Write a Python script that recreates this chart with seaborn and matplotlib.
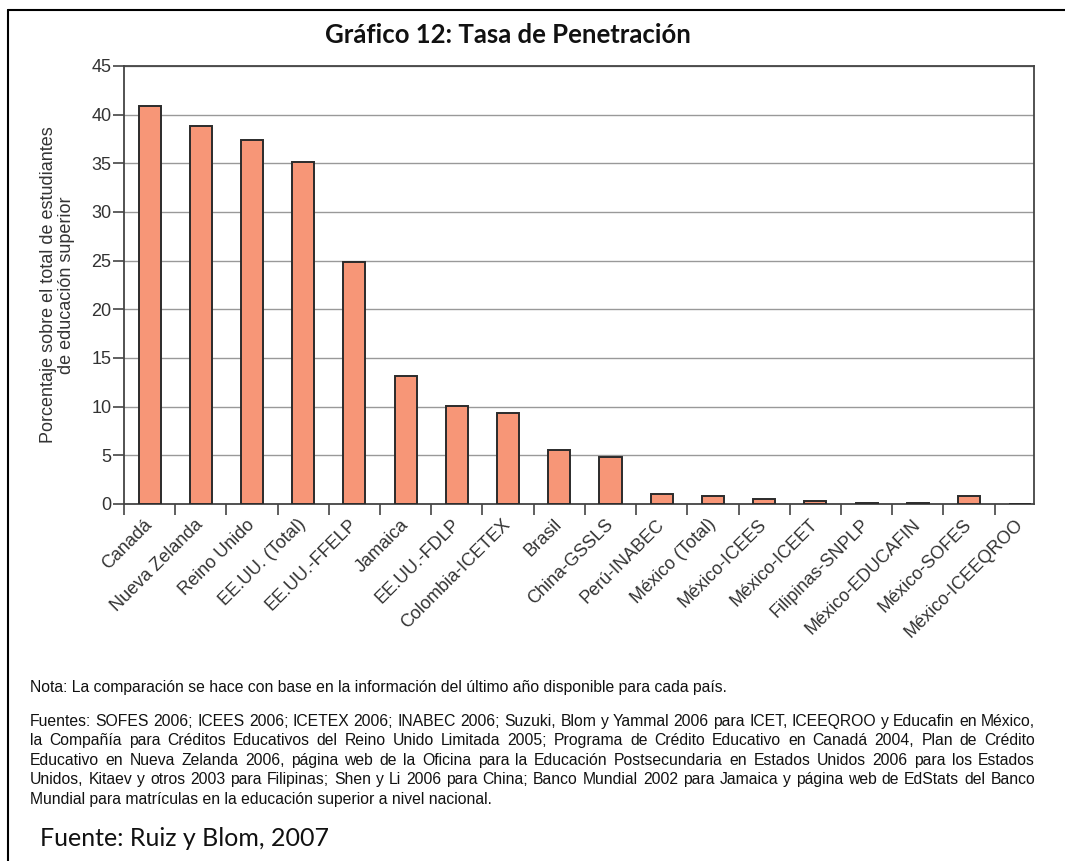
import numpy as np
import pandas as pd
import seaborn as sns
import matplotlib.pyplot as plt
from matplotlib.lines import Line2D

# DATA
categorias = ['Canadá', 'Nueva Zelanda', 'Reino Unido', 'EE.UU. (Total)', 'EE.UU.-FFELP',
              'Jamaica', 'EE.UU.-FDLP', 'Colombia-ICETEX', 'Brasil', 'China-GSSLS',
              'Perú-INABEC', 'México (Total)', 'México-ICEES', 'México-ICEET',
              'Filipinas-SNPLP', 'México-EDUCAFIN', 'México-SOFES', 'México-ICEEQROO']
tasa = [40.9, 38.8, 37.4, 35.1, 24.9, 13.2, 10.1, 9.3, 5.5, 4.8,
        1.0, 0.8, 0.5, 0.35, 0.1, 0.1, 0.8, 0.0]
yticks = [0, 5, 10, 15, 20, 25, 30, 35, 40, 45]

titulo = 'Gráfico 12: Tasa de Penetración'
ylabel = 'Porcentaje sobre el total de estudiantes\nde educación superior'
nota = 'Nota: La comparación se hace con base en la información del último año disponible para cada país.'
fuentes = [
    'Fuentes: SOFES 2006; ICEES 2006; ICETEX 2006; INABEC 2006; Suzuki, Blom y Yammal 2006 para ICET, ICEEQROO y Educafin en México,',
    'la Compañía para Créditos Educativos del Reino Unido Limitada 2005; Programa de Crédito Educativo en Canadá 2004, Plan de Crédito',
    'Educativo en Nueva Zelanda 2006, página web de la Oficina para la Educación Postsecundaria en Estados Unidos 2006 para los Estados',
    'Unidos, Kitaev y otros 2003 para Filipinas; Shen y Li 2006 para China; Banco Mundial 2002 para Jamaica y página web de EdStats del Banco',
    'Mundial para matrículas en la educación superior a nivel nacional.',
]
fuente = 'Fuente: Ruiz y Blom, 2007'

df = pd.DataFrame({'pais': categorias, 'tasa': tasa})

sns.set_style('white')
plt.rcParams['font.family'] = ['Liberation Sans', 'DejaVu Sans']

W, H = 1065, 861
fig = plt.figure(figsize=(W / 100, H / 100), dpi=100)
ax = fig.add_axes([124 / W, 1 - 504 / H, (1034 - 124) / W, (504 - 66) / H])

sns.barplot(data=df, x='pais', y='tasa', color='#F79677', edgecolor='#2b2b2b',
            linewidth=1.4, width=0.43, saturation=1, ax=ax, zorder=3)

ax.set_xlim(-0.5, 17.27)
ax.set_ylim(0, 45)
ax.set_yticks(yticks)
ax.yaxis.grid(True, color='#999999', linewidth=1)
ax.set_axisbelow(True)
for s in ax.spines.values():
    s.set_visible(True)
    s.set_color('#444444')
    s.set_linewidth(1.3)

ax.tick_params(axis='y', direction='out', length=8, width=1.2, color='#444444',
               labelsize=13, labelcolor='#333333', left=True, pad=1)
ax.set_xticks(np.arange(len(categorias)) - 0.5, minor=True)
ax.tick_params(axis='x', which='minor', direction='out', length=8, width=1.2,
               color='#444444', bottom=True)
ax.tick_params(axis='x', which='major', length=0, pad=13, labelsize=13, labelcolor='#333333')
ax.set_xticks(range(len(categorias)))
ax.set_xticklabels(categorias, rotation=45, ha='right', va='center', rotation_mode='anchor')
ax.set_xlabel('')
ax.set_ylabel(ylabel, fontsize=13, color='#333333', labelpad=12, linespacing=1.05)

fig.text(508 / W, 1 - 35 / H, titulo, ha='center', va='center',
         fontsize=18.5, fontweight='bold', family=['Lato', 'DejaVu Sans'], color='#111111')

# notes (baseline aligned, source lines justified)
nota_fs = 11.3
fig.text(30 / W, 1 - 692 / H, nota, ha='left', va='baseline', fontsize=nota_fs, color='#111111')

renderer = fig.canvas.get_renderer()
x0, x1 = 30, 1035
ys = [726, 745, 765, 784, 804]
for k, (linea, yy) in enumerate(zip(fuentes, ys)):
    if k == len(fuentes) - 1:
        fig.text(x0 / W, 1 - yy / H, linea, ha='left', va='baseline', fontsize=nota_fs, color='#111111')
        continue
    palabras = linea.split(' ')
    objs = [fig.text(0, 1 - yy / H, p, ha='left', va='baseline', fontsize=nota_fs, color='#111111')
            for p in palabras]
    anchos = [o.get_window_extent(renderer).width for o in objs]
    gap = (x1 - x0 - sum(anchos)) / (len(palabras) - 1)
    xx = x0
    for o, a in zip(objs, anchos):
        o.set_x(xx / W)
        xx += a + gap

fig.text(40 / W, 1 - 838 / H, fuente, ha='left', va='center', fontsize=18,
         family=['Lato', 'DejaVu Sans'], color='#111111')

# outer frame (top and left edges visible)
fig.add_artist(Line2D([8 / W, 1], [1 - 10 / H, 1 - 10 / H], color='black', lw=1.5))
fig.add_artist(Line2D([8 / W, 8 / W], [0, 1 - 10 / H], color='black', lw=1.5))

fig.savefig('out.png', dpi=100, facecolor='white')
